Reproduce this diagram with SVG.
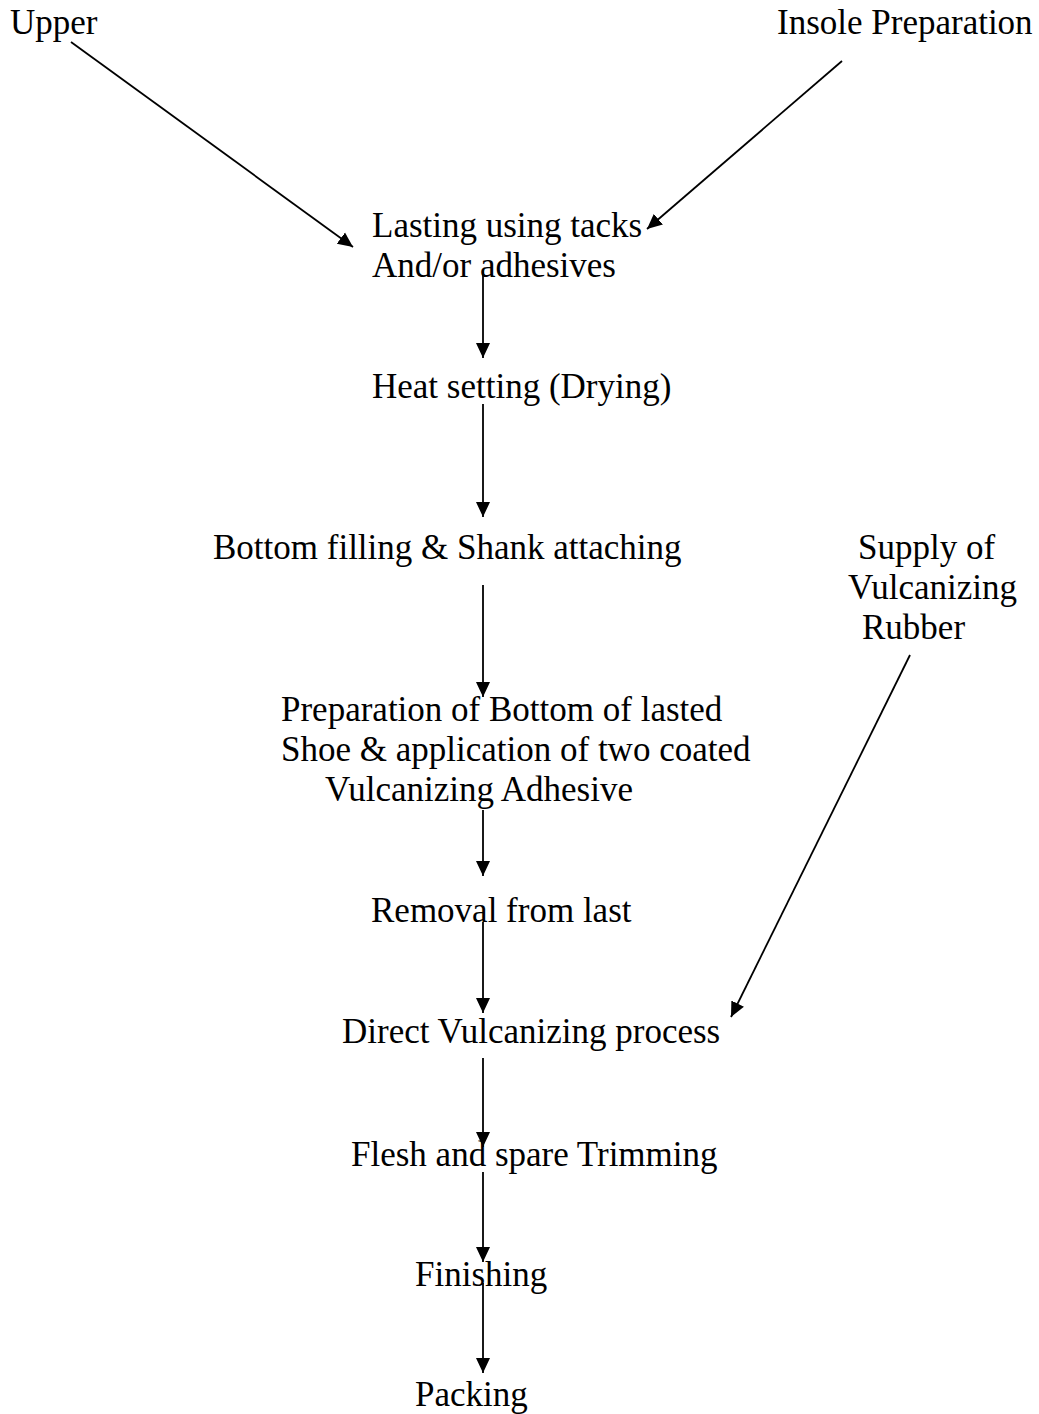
<svg xmlns="http://www.w3.org/2000/svg" width="1039" height="1414" viewBox="0 0 1039 1414">
  <style>
    text { font-family: "Liberation Serif", "Times New Roman", serif; font-size: 35px; fill: #000; }
    .conn { stroke: #000; stroke-width: 1.8; fill: none; marker-end: url(#arrow); }
  </style>
  <defs>
    <marker id="arrow" markerUnits="userSpaceOnUse" markerWidth="16" markerHeight="16" refX="15" refY="8" orient="auto">
      <path d="M0,1 L15,8 L0,15 Z" fill="#000"/>
    </marker>
  </defs>
  <rect width="1039" height="1414" fill="#fff"/>

  <g id="connectors">
    <line class="conn" x1="71" y1="42" x2="353" y2="247"/>
    <line class="conn" x1="842" y1="61" x2="647" y2="229"/>
    <line class="conn" x1="483" y1="270" x2="483" y2="358"/>
    <line class="conn" x1="483" y1="404" x2="483" y2="517"/>
    <line class="conn" x1="483" y1="585" x2="483" y2="697"/>
    <line class="conn" x1="483" y1="810" x2="483" y2="876"/>
    <line class="conn" x1="483" y1="922" x2="483" y2="1013"/>
    <line class="conn" x1="910" y1="655" x2="731" y2="1017"/>
    <line class="conn" x1="483" y1="1058" x2="483" y2="1147"/>
    <line class="conn" x1="483" y1="1172" x2="483" y2="1262"/>
    <line class="conn" x1="483" y1="1283" x2="483" y2="1373"/>
  </g>

  <g id="upper"><text x="10" y="34">Upper</text></g>
  <g id="insole"><text x="777" y="34">Insole Preparation</text></g>
  <g id="lasting">
    <text x="372" y="237">Lasting using tacks</text>
    <text x="372" y="277">And/or adhesives</text>
  </g>
  <g id="heat-setting"><text x="372" y="398">Heat setting (Drying)</text></g>
  <g id="bottom-filling"><text x="213" y="559">Bottom filling &amp; Shank attaching</text></g>
  <g id="supply">
    <text x="858" y="559">Supply of</text>
    <text x="848" y="599">Vulcanizing</text>
    <text x="862" y="639">Rubber</text>
  </g>
  <g id="preparation">
    <text x="281" y="721">Preparation of Bottom of lasted</text>
    <text x="281" y="761">Shoe &amp; application of two coated</text>
    <text x="325" y="801">Vulcanizing Adhesive</text>
  </g>
  <g id="removal"><text x="371" y="922">Removal from last</text></g>
  <g id="direct-vulcanizing"><text x="342" y="1043">Direct Vulcanizing process</text></g>
  <g id="trimming"><text x="351" y="1166">Flesh and spare Trimming</text></g>
  <g id="finishing"><text x="415" y="1286">Finishing</text></g>
  <g id="packing"><text x="415" y="1406">Packing</text></g>
</svg>
